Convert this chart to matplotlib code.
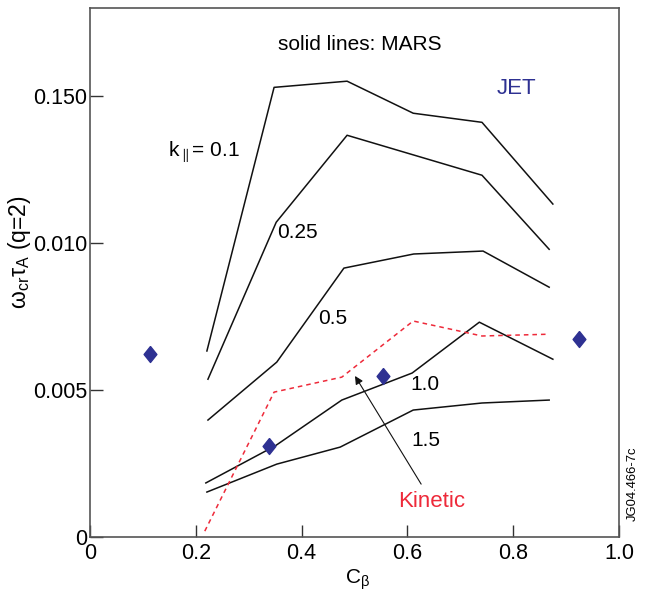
import numpy as np
import matplotlib
matplotlib.use("Agg")
import matplotlib.pyplot as plt

plt.rcParams['font.family'] = ['Liberation Sans', 'DejaVu Sans']
plt.rcParams['mathtext.fontset'] = 'custom'
plt.rcParams['mathtext.rm'] = 'Liberation Sans'
plt.rcParams['mathtext.it'] = 'Liberation Sans'

# MARS curves, one per k_parallel
cb_01 = [0.221, 0.348, 0.486, 0.611, 0.741, 0.875]
w_01 = [0.00633, 0.01530, 0.01551, 0.01442, 0.01411, 0.01133]

cb_025 = [0.223, 0.352, 0.486, 0.741, 0.868]
w_025 = [0.00537, 0.01071, 0.01367, 0.01231, 0.00979]

cb_05 = [0.223, 0.353, 0.480, 0.612, 0.743, 0.868]
w_05 = [0.00398, 0.00595, 0.00915, 0.00963, 0.00973, 0.00850]

cb_10 = [0.219, 0.350, 0.476, 0.609, 0.736, 0.875]
w_10 = [0.00184, 0.00310, 0.00466, 0.00558, 0.00731, 0.00605]

cb_15 = [0.221, 0.353, 0.473, 0.611, 0.741, 0.868]
w_15 = [0.00153, 0.00248, 0.00306, 0.00432, 0.00456, 0.00466]

# kinetic model
cb_kin = [0.217, 0.348, 0.476, 0.611, 0.741, 0.866]
w_kin = [0.0002, 0.00493, 0.00544, 0.00735, 0.00684, 0.00690]

# JET points
cb_jet = [0.113, 0.338, 0.554, 0.924]
w_jet = [0.00623, 0.00310, 0.00548, 0.00673]

xticks = [0, 0.2, 0.4, 0.6, 0.8, 1.0]
xlabels = ['0', '0.2', '0.4', '0.6', '0.8', '1.0']
yticks = [0, 0.005, 0.010, 0.015]
ylabels = ['0', '0.005', '0.010', '0.150']

# slightly squat diamond for the JET points
diamond = [(0, 1), (0.8, 0), (0, -1), (-0.8, 0), (0, 1)]

fig = plt.figure(figsize=(6.46, 5.93), dpi=100)
ax = fig.add_axes([0.1393, 0.0944, 0.8189, 0.8921])

for cb, w in [(cb_01, w_01), (cb_025, w_025), (cb_05, w_05), (cb_10, w_10), (cb_15, w_15)]:
    ax.plot(cb, w, color='#111111', lw=1.1)

ax.plot(cb_kin, w_kin, color='#ee2a3a', lw=1.1, dashes=(3, 2.6))
ax.plot(cb_jet, w_jet, linestyle='none', marker=diamond, ms=11.5, color='#2e3192')

ax.set_xlim(0, 1.0)
ax.set_ylim(0, 0.018)
ax.set_xticks(xticks)
ax.set_xticklabels(xlabels)
ax.set_yticks(yticks)
ax.set_yticklabels(ylabels)
ax.tick_params(direction='in', length=9, width=1, labelsize=15.5, color='#333333')
ax.tick_params(axis='y', pad=2)
ax.tick_params(axis='x', pad=4)
for s in ax.spines.values():
    s.set_color('#555555')
    s.set_linewidth(1.2)

ax.set_xlabel(r'$\mathregular{C_β}$', fontsize=15)
ax.xaxis.set_label_coords(0.505, -0.058)
ax.set_ylabel(r'$\mathregular{ω_{cr}τ_A}$ (q=2)', fontsize=16.5)
ax.yaxis.set_label_coords(-0.108, 0.539)

ax.text(0.510, 0.01677, 'solid lines: MARS', fontsize=15, ha='center', va='center')
ax.text(0.807, 0.01527, 'JET', fontsize=16, color='#2e3192', ha='center', va='center')
ax.text(0.147, 0.0131, r'$\mathregular{k_{\parallel}}$= 0.1', fontsize=15, va='center')
ax.text(0.353, 0.01037, '0.25', fontsize=15, va='center')
ax.text(0.431, 0.00745, '0.5', fontsize=15, va='center')
ax.text(0.605, 0.0052, '1.0', fontsize=15, va='center')
ax.text(0.607, 0.00327, '1.5', fontsize=15, va='center')
ax.text(0.646, 0.00122, 'Kinetic', fontsize=16, color='#ee2a3a', ha='center', va='center')
ax.annotate('', xy=(0.501, 0.00548), xytext=(0.626, 0.00180),
            arrowprops=dict(arrowstyle='-|>', color='#111111', lw=0.8,
                            mutation_scale=12, shrinkA=0, shrinkB=0))
fig.text(0.979, 0.185, 'JG04.466-7c', fontsize=9.4, rotation=90, ha='center', va='center')

fig.savefig('out.png', dpi=100)
